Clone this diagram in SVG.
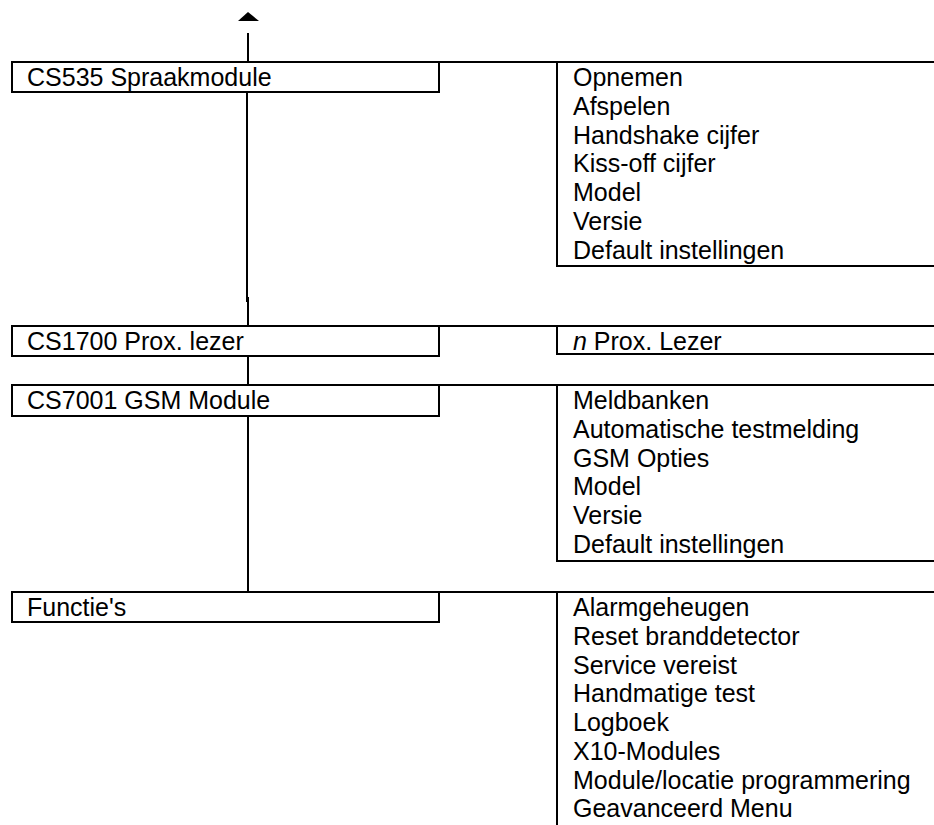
<svg xmlns="http://www.w3.org/2000/svg" width="934" height="825" viewBox="0 0 934 825">
<style>
  .box { fill: #fff; stroke: #000; stroke-width: 2; }
  .ln { stroke: #000; stroke-width: 2; fill: none; }
  text { font-family: "Liberation Sans", Arial, sans-serif; font-size: 25px; fill: #000; }
</style>
<rect width="934" height="825" fill="#fff"/>
<g id="connectors">
  <polygon points="248,12 238,21 259,21" fill="#000"/>
  <line class="ln" x1="248" y1="33" x2="248" y2="62"/>
  <line class="ln" x1="247" y1="92" x2="247" y2="302"/>
  <line class="ln" x1="248" y1="297" x2="248" y2="326"/>
  <line class="ln" x1="248" y1="356" x2="248" y2="385"/>
  <line class="ln" x1="248" y1="417" x2="248" y2="592"/>
</g>
<g id="node-cs535">
  <line class="ln" x1="439" y1="62" x2="934" y2="62"/>
  <rect class="box" x="12" y="62" width="427" height="30"/>
  <text x="27" y="86">CS535 Spraakmodule</text>
</g>
<g id="menu-cs535">
  <polyline class="ln" points="557,62 557,266 934,266"/>
  <text x="573" y="86">Opnemen</text>
  <text x="573" y="114.75">Afspelen</text>
  <text x="573" y="143.5">Handshake cijfer</text>
  <text x="573" y="172.25">Kiss-off cijfer</text>
  <text x="573" y="201">Model</text>
  <text x="573" y="229.75">Versie</text>
  <text x="573" y="258.5">Default instellingen</text>
</g>
<g id="node-cs1700">
  <line class="ln" x1="439" y1="326" x2="934" y2="326"/>
  <rect class="box" x="12" y="326" width="427" height="30"/>
  <text x="27" y="350">CS1700 Prox. lezer</text>
</g>
<g id="menu-cs1700">
  <polyline class="ln" points="557,326 557,354 934,354"/>
  <text x="573" y="350"><tspan font-style="italic">n</tspan> Prox. Lezer</text>
</g>
<g id="node-cs7001">
  <line class="ln" x1="439" y1="385" x2="934" y2="385"/>
  <rect class="box" x="12" y="385" width="427" height="31"/>
  <text x="27" y="409">CS7001 GSM Module</text>
</g>
<g id="menu-cs7001">
  <polyline class="ln" points="557,385 557,561 934,561"/>
  <text x="573" y="409">Meldbanken</text>
  <text x="573" y="437.75">Automatische testmelding</text>
  <text x="573" y="466.5">GSM Opties</text>
  <text x="573" y="495.25">Model</text>
  <text x="573" y="524">Versie</text>
  <text x="573" y="552.75">Default instellingen</text>
</g>
<g id="node-functies">
  <line class="ln" x1="439" y1="592" x2="934" y2="592"/>
  <rect class="box" x="12" y="592" width="427" height="30"/>
  <text x="27" y="616">Functie's</text>
</g>
<g id="menu-functies">
  <line class="ln" x1="557" y1="592" x2="557" y2="825"/>
  <text x="573" y="616">Alarmgeheugen</text>
  <text x="573" y="644.75">Reset branddetector</text>
  <text x="573" y="673.5">Service vereist</text>
  <text x="573" y="702.25">Handmatige test</text>
  <text x="573" y="731">Logboek</text>
  <text x="573" y="759.75">X10-Modules</text>
  <text x="573" y="788.5">Module/locatie programmering</text>
  <text x="573" y="817.25">Geavanceerd Menu</text>
</g>
</svg>
